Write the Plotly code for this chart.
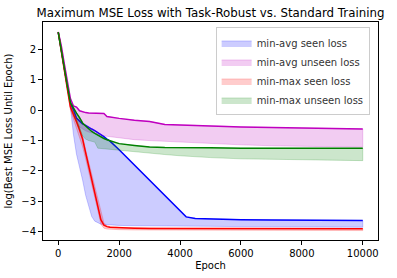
import plotly.graph_objects as go

epochs = [0, 100, 200, 300, 400, 500, 600, 700, 800, 900, 1000, 1100, 1200, 1300, 1400,
          1500, 1600, 1700, 2000, 2500, 3000, 3500, 4000, 4200, 4500, 5000, 6000, 7000,
          8000, 9000, 10000]

x_tick_vals = [0, 2000, 4000, 6000, 8000, 10000]
x_tick_text = ["0", "2000", "4000", "6000", "8000", "10000"]
y_tick_vals = [-4, -3, -2, -1, 0, 1, 2]

# min-avg seen loss (blue)
minavg_seen_mean = [2.57, 1.95, 1.35, 0.78, 0.22, 0.02, -0.26, -0.36, -0.45, -0.5, -0.57, -0.62,
                    -0.67, -0.73, -0.8, -0.87, -0.95, -1.02, -1.3, -1.8, -2.3, -2.8, -3.3, -3.51,
                    -3.56, -3.58, -3.6, -3.61, -3.62, -3.62, -3.63]
minavg_seen_low = [2.55, 1.92, 1.3, 0.72, 0.1, -0.8, -1.45, -1.85, -2.3, -2.8, -3.15, -3.5,
                   -3.65, -3.7, -3.75, -3.77, -3.78, -3.78, -3.79, -3.8, -3.8, -3.81, -3.81, -3.81,
                   -3.82, -3.82, -3.83, -3.84, -3.84, -3.85, -3.85]

# min-avg unseen loss (magenta)
minavg_unseen_mean = [2.57, 2.12, 1.52, 0.92, 0.38, 0.14, 0.1, -0.02, -0.06, -0.08, -0.09, -0.09,
                      -0.1, -0.1, -0.1, -0.11, -0.21, -0.23, -0.27, -0.33, -0.37, -0.47, -0.49,
                      -0.5, -0.51, -0.53, -0.55, -0.57, -0.59, -0.6, -0.62]
minavg_unseen_low = [2.55, 2.08, 1.47, 0.86, 0.1, -0.2, -0.4, -0.55, -0.62, -0.68, -0.72, -0.75,
                     -0.78, -0.8, -0.82, -0.84, -0.86, -0.87, -0.92, -0.97, -1.0, -1.03, -1.05,
                     -1.06, -1.08, -1.1, -1.14, -1.17, -1.19, -1.21, -1.22]

# min-max seen loss (red)
minmax_seen_mean = [2.57, 1.9, 1.3, 0.7, 0.1, -0.12, -0.38, -0.65, -0.95, -1.4, -1.82, -2.3,
                    -2.7, -3.1, -3.6, -3.78, -3.83, -3.85, -3.87, -3.88, -3.89, -3.89, -3.89,
                    -3.89, -3.89, -3.89, -3.9, -3.9, -3.9, -3.9, -3.9]
minmax_seen_high = [2.58, 1.93, 1.33, 0.73, 0.15, -0.05, -0.3, -0.55, -0.85, -1.3, -1.7, -2.15,
                    -2.55, -2.95, -3.4, -3.7, -3.8, -3.83, -3.86, -3.87, -3.88, -3.88, -3.88,
                    -3.88, -3.88, -3.88, -3.89, -3.89, -3.89, -3.89, -3.89]
minmax_seen_low = [2.55, 1.86, 1.25, 0.64, 0.0, -0.3, -0.6, -0.9, -1.2, -1.6, -2.0, -2.45,
                   -2.85, -3.3, -3.75, -3.88, -3.91, -3.92, -3.93, -3.94, -3.94, -3.95, -3.95,
                   -3.95, -3.95, -3.95, -3.95, -3.96, -3.96, -3.96, -3.96]

# min-max unseen loss (green)
minmax_unseen_mean = [2.57, 1.95, 1.35, 0.8, 0.25, 0.05, -0.1, -0.25, -0.42, -0.52, -0.62, -0.7,
                      -0.76, -0.82, -0.88, -0.93, -0.97, -1.0, -1.1, -1.16, -1.21, -1.23, -1.24,
                      -1.24, -1.24, -1.24, -1.25, -1.25, -1.25, -1.25, -1.25]
minmax_unseen_low = [2.55, 1.92, 1.3, 0.74, 0.2, -0.1, -0.35, -0.6, -0.85, -0.95, -1.0, -1.03,
                     -1.05, -1.25, -1.25, -1.26, -1.27, -1.27, -1.3, -1.36, -1.41, -1.46, -1.5,
                     -1.52, -1.54, -1.56, -1.6, -1.63, -1.64, -1.65, -1.66]

labels = ["min-avg seen loss", "min-avg unseen loss", "min-max seen loss", "min-max unseen loss"]

series = [
    (minavg_seen_mean, minavg_seen_mean, minavg_seen_low, (0, 0, 255)),
    (minavg_unseen_mean, minavg_unseen_mean, minavg_unseen_low, (191, 0, 191)),
    (minmax_seen_mean, minmax_seen_high, minmax_seen_low, (255, 0, 0)),
    (minmax_unseen_mean, minmax_unseen_mean, minmax_unseen_low, (0, 128, 0)),
]

fig = go.Figure()
for (mean, high, low, rgb), name in zip(series, labels):
    r, g, b = rgb
    fig.add_trace(go.Scatter(
        x=epochs + epochs[::-1], y=high + low[::-1],
        fill="toself", fillcolor=f"rgba({r},{g},{b},0.2)",
        line=dict(color=f"rgba({r},{g},{b},0.2)", width=1),
        mode="lines", name=name, hoverinfo="skip",
    ))
    fig.add_trace(go.Scatter(
        x=epochs, y=mean, mode="lines",
        line=dict(color=f"rgb({r},{g},{b})", width=1.5),
        showlegend=False,
    ))

axis_common = dict(
    showline=True, linecolor="black", linewidth=1, mirror=True, automargin=False,
    ticks="outside", ticklen=4, tickcolor="black", showgrid=False, zeroline=False,
    tickfont=dict(size=10, color="black"),
)

fig.update_layout(
    width=397, height=278,
    margin=dict(l=43, r=19, t=22, b=38),
    plot_bgcolor="white", paper_bgcolor="white",
    font=dict(family="DejaVu Sans", size=10, color="black"),
    title=dict(text="Maximum MSE Loss with Task-Robust vs. Standard Training",
               xref="paper", x=0.5, xanchor="center",
               yref="container", y=0.955, yanchor="middle",
               font=dict(size=11.8, color="black")),
    xaxis=dict(range=[-500, 10500], tickvals=x_tick_vals, ticktext=x_tick_text,
               title=dict(text="Epoch", font=dict(size=10), standoff=3), **axis_common),
    yaxis=dict(range=[-4.27, 2.9], tickvals=y_tick_vals,
               title=dict(text="log(Best MSE Loss Until Epoch)", font=dict(size=10), standoff=6),
               **axis_common),
    legend=dict(x=0.975, xanchor="right", y=0.975, yanchor="top",
                bgcolor="rgba(255,255,255,0.8)", bordercolor="#cccccc", borderwidth=1,
                font=dict(size=10, color="#333333"), tracegroupgap=0,
                itemwidth=30),
    showlegend=True,
)

fig.write_html(
    "out.html",
    config={"displayModeBar": False},
    post_script="document.body.style.margin='0';document.body.style.padding='0';",
)
